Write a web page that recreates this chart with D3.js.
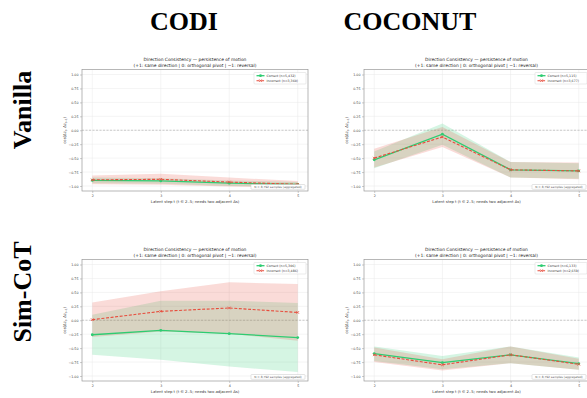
<!DOCTYPE html>
<html><head><meta charset="utf-8">
<script src="https://cdn.jsdelivr.net/npm/d3@7"></script>
<style>body{margin:0;background:#fff}svg{display:block}</style>
</head><body><svg id="c" width="587" height="398"></svg>
<script>
// ---------- data ----------
const steps = [2, 3, 4, 5];
const yTicks = [-1, -0.75, -0.5, -0.25, 0, 0.25, 0.5, 0.75, 1];
const colTitles = ["CODI", "COCONUT"];
const rowTitles = ["Vanilla", "Sim-CoT"];

// Vanilla / CODI
const vanCodiCorrect     = [-0.90, -0.91, -0.95, -0.97];
const vanCodiCorrectSd   = [0.05, 0.05, 0.05, 0.04];
const vanCodiIncorrect   = [-0.89, -0.88, -0.93, -0.97];
const vanCodiIncorrectSd = [0.08, 0.10, 0.08, 0.06];
const vanCodiN = [5432, 3360];

// Vanilla / COCONUT
const vanCocoCorrect     = [-0.53, -0.07, -0.71, -0.73];
const vanCocoCorrectSd   = [0.15, 0.19, 0.14, 0.14];
const vanCocoIncorrect   = [-0.50, -0.12, -0.71, -0.73];
const vanCocoIncorrectSd = [0.17, 0.18, 0.14, 0.15];
const vanCocoN = [5115, 3677];

// Sim-CoT / CODI
const simCodiCorrect     = [-0.26, -0.18, -0.24, -0.31];
const simCodiCorrectSd   = [0.36, 0.53, 0.59, 0.62];
const simCodiIncorrect   = [0.01, 0.16, 0.22, 0.14];
const simCodiIncorrectSd = [0.31, 0.36, 0.46, 0.51];
const simCodiN = [5306, 3486];

// Sim-CoT / COCONUT
const simCocoCorrect     = [-0.60, -0.76, -0.62, -0.78];
const simCocoCorrectSd   = [0.13, 0.12, 0.15, 0.11];
const simCocoIncorrect   = [-0.62, -0.80, -0.62, -0.79];
const simCocoIncorrectSd = [0.13, 0.10, 0.15, 0.10];
const simCocoN = [6133, 2659];

const totalN = 8792;
const titleLine1 = "Direction Consistency — persistence of motion";
const titleLine2 = "(+1: same direction  |  0: orthogonal pivot  |  −1: reversal)";
const xLabel = "Latent step t  (t ∈ 2..5; needs two adjacent Δs)";

const panels = [
  {row: 0, col: 0, c: vanCodiCorrect, cs: vanCodiCorrectSd, i: vanCodiIncorrect, is: vanCodiIncorrectSd, n: vanCodiN},
  {row: 0, col: 1, c: vanCocoCorrect, cs: vanCocoCorrectSd, i: vanCocoIncorrect, is: vanCocoIncorrectSd, n: vanCocoN},
  {row: 1, col: 0, c: simCodiCorrect, cs: simCodiCorrectSd, i: simCodiIncorrect, is: simCodiIncorrectSd, n: simCodiN},
  {row: 1, col: 1, c: simCocoCorrect, cs: simCocoCorrectSd, i: simCocoIncorrect, is: simCocoIncorrectSd, n: simCocoN},
];

// ---------- layout ----------
const GREEN = "#2ecc71", RED = "#e74c3c";
const colX = [[82, 308], [364, 589]];
const rowY = [[191, 69.5], [381, 259.5]];
const svg = d3.select("#c");
const fmtN = d3.format(",");

// column / row headers
const colCenters = [184, 410];
colTitles.forEach((t, k) => {
  svg.append("text").attr("x", colCenters[k]).attr("y", 30)
    .attr("text-anchor", "middle").attr("font-family", "Liberation Serif, Times New Roman, serif")
    .attr("font-weight", "bold").attr("font-size", 26).attr("fill", "#000").text(t);
});
const rowCenters = [110, 292];
rowTitles.forEach((t, k) => {
  svg.append("text").attr("transform", `translate(31,${rowCenters[k]}) rotate(-90)`)
    .attr("text-anchor", "middle").attr("font-family", "Liberation Serif, Times New Roman, serif")
    .attr("font-weight", "bold").attr("font-size", 26).attr("fill", "#000").text(t);
});

panels.forEach((p, idx) => {
  const x = d3.scaleLinear().domain([1.85, 5.15]).range(colX[p.col]);
  const y = d3.scaleLinear().domain([-1.09, 1.09]).range(rowY[p.row]);
  const [x0, x1] = colX[p.col];
  const [yb, yt] = rowY[p.row];
  const g = svg.append("g");
  const clipId = "clip" + idx;
  g.append("clipPath").attr("id", clipId).append("rect")
    .attr("x", x0).attr("y", yt).attr("width", x1 - x0).attr("height", yb - yt);

  // grid
  const grid = g.append("g").attr("clip-path", `url(#${clipId})`);
  grid.selectAll(".gx").data(steps).join("line")
    .attr("x1", d => x(d)).attr("x2", d => x(d)).attr("y1", yt).attr("y2", yb)
    .attr("stroke", "#e8e8e8").attr("stroke-width", 0.5);
  grid.selectAll(".gy").data(yTicks).join("line")
    .attr("x1", x0).attr("x2", x1).attr("y1", d => y(d)).attr("y2", d => y(d))
    .attr("stroke", "#e8e8e8").attr("stroke-width", 0.5);
  // zero line
  grid.append("line").attr("x1", x0).attr("x2", x1).attr("y1", y(0)).attr("y2", y(0))
    .attr("stroke", "#aaa").attr("stroke-width", 0.6).attr("stroke-dasharray", "2,1.5");

  const plot = g.append("g").attr("clip-path", `url(#${clipId})`);
  const series = [
    {m: p.c, s: p.cs, color: GREEN, dash: null, marker: "o", width: 1.3},
    {m: p.i, s: p.is, color: RED, dash: "3,1.6", marker: "x", width: 1.1},
  ];
  series.forEach(se => {
    const area = d3.area().x((d, k) => x(steps[k]))
      .y0((d, k) => y(se.m[k] - se.s[k])).y1((d, k) => y(se.m[k] + se.s[k]));
    plot.append("path").datum(se.m).attr("d", area).attr("fill", se.color).attr("fill-opacity", 0.2);
  });
  series.forEach(se => {
    const line = d3.line().x((d, k) => x(steps[k])).y(d => y(d));
    plot.append("path").datum(se.m).attr("d", line).attr("fill", "none")
      .attr("stroke", se.color).attr("stroke-width", se.width)
      .attr("stroke-dasharray", se.dash);
    se.m.forEach((v, k) => {
      const cx = x(steps[k]), cy = y(v);
      if (se.marker === "o") {
        plot.append("circle").attr("cx", cx).attr("cy", cy).attr("r", 1.4).attr("fill", se.color);
      } else {
        plot.append("path").attr("d", `M${cx-1.3},${cy-1.3}L${cx+1.3},${cy+1.3}M${cx-1.3},${cy+1.3}L${cx+1.3},${cy-1.3}`)
          .attr("stroke", se.color).attr("stroke-width", 0.8);
      }
    });
  });

  // frame
  g.append("rect").attr("x", x0).attr("y", yt).attr("width", x1 - x0).attr("height", yb - yt)
    .attr("fill", "none").attr("stroke", "#999").attr("stroke-width", 0.7);

  // axes
  const ax = g.append("g").attr("transform", `translate(0,${yb})`)
    .call(d3.axisBottom(x).tickValues(steps).tickFormat(d3.format("d")).tickSize(2).tickPadding(1.5));
  const ay = g.append("g").attr("transform", `translate(${x0},0)`)
    .call(d3.axisLeft(y).tickValues(yTicks).tickFormat(d3.format(".2f")).tickSize(2).tickPadding(1.5));
  [ax, ay].forEach(a => {
    a.select(".domain").remove();
    a.selectAll("line").attr("stroke", "#999").attr("stroke-width", 0.5);
    a.selectAll("text").attr("font-family", "DejaVu Sans, sans-serif").attr("font-size", 3.3).attr("fill", "#444");
  });
  ay.selectAll("text").text(d => d3.format(".2f")(d).replace("-", "−"));

  const cx = (x0 + x1) / 2;
  g.append("text").attr("x", cx).attr("y", yt - 8.5).attr("text-anchor", "middle")
    .attr("font-family", "DejaVu Sans, sans-serif").attr("font-size", 4.4).attr("fill", "#222").text(titleLine1);
  g.append("text").attr("x", cx).attr("y", yt - 3).attr("text-anchor", "middle")
    .attr("font-family", "DejaVu Sans, sans-serif").attr("font-size", 4.4).attr("fill", "#222").text(titleLine2);
  g.append("text").attr("x", cx).attr("y", yb + 12).attr("text-anchor", "middle")
    .attr("font-family", "DejaVu Sans, sans-serif").attr("font-size", 3.8).attr("fill", "#333").text(xLabel);

  // y label
  const yl = g.append("text").attr("transform", `translate(${x0 - 16},${(yt + yb) / 2}) rotate(-90)`)
    .attr("text-anchor", "middle").attr("font-family", "DejaVu Sans, sans-serif")
    .attr("font-size", 3.8).attr("fill", "#333");
  yl.append("tspan").text("cos(Δz");
  yl.append("tspan").attr("font-size", 2.7).attr("dy", 0.9).text("t");
  yl.append("tspan").attr("dy", -0.9).text(", Δz");
  yl.append("tspan").attr("font-size", 2.7).attr("dy", 0.9).text("t−1");
  yl.append("tspan").attr("dy", -0.9).text(")");

  // legend
  const labels = [`Correct (n=${fmtN(p.n[0])})`, `Incorrect (n=${fmtN(p.n[1])})`];
  const lg = g.append("g");
  const lw = 52, lh = 11.5;
  const lx = x1 - 2 - lw, ly = yt + 3;
  lg.append("rect").attr("x", lx).attr("y", ly).attr("width", lw).attr("height", lh).attr("rx", 0.8)
    .attr("fill", "#fff").attr("fill-opacity", 0.9).attr("stroke", "#ccc").attr("stroke-width", 0.4);
  series.forEach((se, k) => {
    const yy = ly + 3.2 + k * 5;
    lg.append("line").attr("x1", lx + 2.5).attr("x2", lx + 10.5).attr("y1", yy).attr("y2", yy)
      .attr("stroke", se.color).attr("stroke-width", se.width).attr("stroke-dasharray", se.dash);
    if (se.marker === "o") lg.append("circle").attr("cx", lx + 6.5).attr("cy", yy).attr("r", 1.4).attr("fill", se.color);
    else lg.append("path").attr("d", `M${lx+5.2},${yy-1.3}L${lx+7.8},${yy+1.3}M${lx+5.2},${yy+1.3}L${lx+7.8},${yy-1.3}`)
      .attr("stroke", se.color).attr("stroke-width", 0.8);
    lg.append("text").attr("x", lx + 12.5).attr("y", yy + 1.1).attr("font-family", "DejaVu Sans, sans-serif")
      .attr("font-size", 3.2).attr("fill", "#333").text(labels[k]);
  });

  // annotation
  const aw = 54, ah = 4.8;
  const axx = x1 - 3 - aw, ayy = yb - 6.5;
  g.append("rect").attr("x", axx).attr("y", ayy).attr("width", aw).attr("height", ah).attr("rx", 0.8)
    .attr("fill", "#fff").attr("stroke", "#bbb").attr("stroke-width", 0.4);
  g.append("text").attr("x", axx + aw / 2).attr("y", ayy + 3.5).attr("text-anchor", "middle")
    .attr("font-family", "DejaVu Sans, sans-serif").attr("font-size", 2.9).attr("fill", "#555")
    .text(`N = ${fmtN(totalN)} samples (aggregated)`);
});
</script></body></html>
